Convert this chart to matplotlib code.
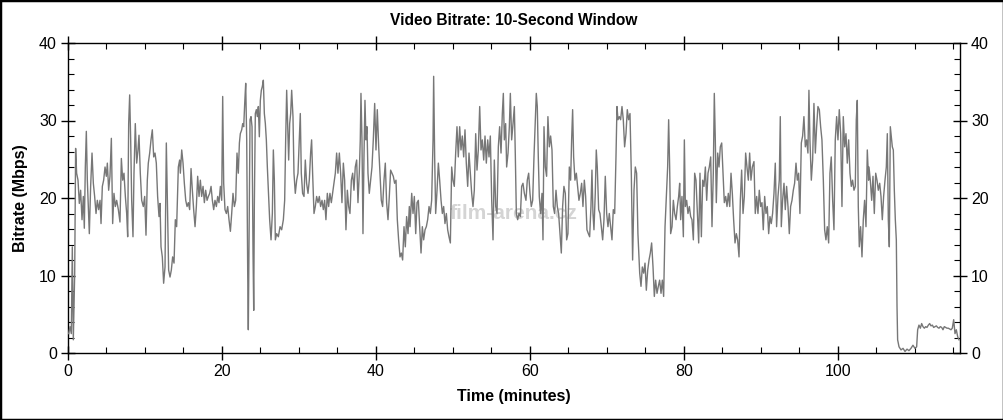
"""Video bitrate over time, 10-second window. Saves out.png."""

import matplotlib

matplotlib.use("Agg")  # headless
import matplotlib.pyplot as plt
from matplotlib import font_manager
from matplotlib.patches import Rectangle
from matplotlib.ticker import MultipleLocator

# values (minutes, Mbps)
time_min = [
    # 0 - 14.5
    0.09, 0.26, 0.43, 0.56, 0.69, 0.87, 0.99, 1.12, 1.30, 1.47, 1.64, 1.82, 1.99, 2.12, 2.25, 2.38, 2.51, 2.64,
    2.77, 2.94, 3.12, 3.29, 3.46, 3.64, 3.81, 3.98, 4.16, 4.29, 4.46, 4.63, 4.81, 4.98, 5.11, 5.28, 5.45, 5.63,
    5.80, 5.97, 6.15, 6.32, 6.54, 6.75, 6.93, 7.10, 7.27, 7.45, 7.62, 7.75, 7.88, 8.01, 8.14, 8.27, 8.44, 8.57,
    8.74, 8.92, 9.09, 9.22, 9.39, 9.57, 9.78, 9.96, 10.13, 10.30, 10.43, 10.61, 10.78, 10.95, 11.13, 11.30,
    11.47, 11.64, 11.82, 11.95, 12.08, 12.25, 12.42, 12.60, 12.77, 12.94, 13.07, 13.25, 13.42, 13.59, 13.77,
    13.94, 14.11, 14.33, 14.50,
    # 14.5 - 29.2
    14.59, 14.77, 14.94, 15.11, 15.29, 15.46, 15.63, 15.80, 15.98, 16.15, 16.32, 16.50, 16.67, 16.84, 17.02,
    17.19, 17.36, 17.54, 17.71, 17.88, 18.06, 18.23, 18.40, 18.58, 18.75, 18.92, 19.09, 19.27, 19.44, 19.61,
    19.79, 19.96, 20.09, 20.22, 20.39, 20.57, 20.74, 20.91, 21.09, 21.26, 21.43, 21.61, 21.78, 21.95, 22.12,
    22.26, 22.38, 22.56, 22.69, 22.82, 22.95, 23.08, 23.21, 23.34, 23.42, 23.51, 23.64, 23.77, 23.90, 24.03,
    24.12, 24.20, 24.33, 24.46, 24.59, 24.72, 24.85, 24.98, 25.11, 25.24, 25.37, 25.50, 25.63, 25.76, 25.89,
    26.02, 26.19, 26.37, 26.54, 26.67, 26.80, 26.93, 27.10, 27.32, 27.54, 27.75, 27.97, 28.14, 28.27, 28.40,
    28.53, 28.66, 28.79, 28.92, 29.05, 29.22,
    # 29.2 - 44.3
    29.35, 29.52, 29.70, 29.87, 30.04, 30.17, 30.30, 30.47, 30.65, 30.82, 30.99, 31.17, 31.34, 31.51, 31.64,
    31.77, 31.95, 32.12, 32.29, 32.47, 32.64, 32.81, 32.99, 33.16, 33.33, 33.50, 33.68, 33.85, 34.02, 34.20,
    34.37, 34.54, 34.72, 34.89, 35.06, 35.24, 35.41, 35.58, 35.76, 35.93, 36.10, 36.28, 36.45, 36.62, 36.80,
    36.97, 37.14, 37.31, 37.49, 37.66, 37.83, 37.96, 38.05, 38.18, 38.31, 38.44, 38.57, 38.70, 38.83, 38.96,
    39.13, 39.31, 39.48, 39.65, 39.83, 40.00, 40.17, 40.35, 40.52, 40.69, 40.86, 41.04, 41.21, 41.38, 41.56,
    41.73, 41.90, 42.08, 42.25, 42.42, 42.60, 42.77, 42.94, 43.12, 43.29, 43.46, 43.64, 43.81, 43.98, 44.16,
    44.33,
    # 44.4 - 59.3
    44.42, 44.64, 44.81, 44.98, 45.16, 45.33, 45.50, 45.67, 45.85, 46.02, 46.19, 46.37, 46.54, 46.71, 46.89,
    47.06, 47.23, 47.41, 47.49, 47.62, 47.75, 47.93, 48.10, 48.27, 48.45, 48.62, 48.79, 48.96, 49.14, 49.31,
    49.48, 49.66, 49.83, 50.00, 50.17, 50.35, 50.52, 50.69, 50.87, 51.04, 51.21, 51.39, 51.56, 51.73, 51.91,
    52.08, 52.25, 52.43, 52.60, 52.77, 52.95, 53.12, 53.29, 53.47, 53.64, 53.81, 53.99, 54.16, 54.33, 54.51,
    54.68, 54.85, 55.03, 55.20, 55.37, 55.55, 55.72, 55.89, 56.06, 56.24, 56.41, 56.54, 56.67, 56.84, 56.97,
    57.15, 57.32, 57.45, 57.62, 57.80, 57.97, 58.10, 58.23, 58.40, 58.57, 58.75, 58.92, 59.09, 59.27,
    # 59.5 - 74.0
    59.48, 59.65, 59.83, 60.00, 60.17, 60.35, 60.52, 60.69, 60.82, 60.95, 61.08, 61.21, 61.38, 61.56, 61.69,
    61.82, 61.99, 62.16, 62.33, 62.51, 62.68, 62.86, 63.03, 63.20, 63.38, 63.55, 63.72, 63.90, 64.07, 64.24,
    64.41, 64.59, 64.76, 64.93, 65.11, 65.28, 65.41, 65.54, 65.67, 65.84, 66.02, 66.19, 66.36, 66.54, 66.71,
    66.88, 67.06, 67.23, 67.40, 67.58, 67.75, 67.92, 68.05, 68.18, 68.31, 68.48, 68.61, 68.74, 68.92, 69.09,
    69.26, 69.44, 69.61, 69.78, 69.96, 70.13, 70.30, 70.48, 70.65, 70.82, 71.00, 71.17, 71.30, 71.43, 71.60,
    71.77, 71.95, 72.12, 72.29, 72.47, 72.64, 72.81, 72.99, 73.16, 73.33, 73.51, 73.68, 73.85, 74.02,
    # 74.2 - 88.9
    74.25, 74.42, 74.59, 74.77, 74.94, 75.11, 75.29, 75.46, 75.63, 75.80, 75.98, 76.15, 76.32, 76.50, 76.67,
    76.84, 77.02, 77.19, 77.36, 77.54, 77.71, 77.88, 78.01, 78.14, 78.27, 78.45, 78.62, 78.79, 78.97, 79.14,
    79.31, 79.44, 79.57, 79.74, 79.92, 80.05, 80.18, 80.35, 80.52, 80.70, 80.87, 81.04, 81.22, 81.39, 81.56,
    81.74, 81.91, 82.08, 82.26, 82.43, 82.60, 82.78, 82.95, 83.12, 83.29, 83.47, 83.64, 83.81, 83.94, 84.07,
    84.20, 84.38, 84.55, 84.72, 84.90, 85.07, 85.24, 85.42, 85.59, 85.76, 85.94, 86.11, 86.28, 86.45, 86.63,
    86.80, 86.97, 87.15, 87.32, 87.49, 87.67, 87.84, 88.01, 88.18, 88.36, 88.53, 88.70, 88.88,
    # 89.1 - 104.0
    89.09, 89.26, 89.44, 89.61, 89.78, 89.96, 90.13, 90.30, 90.48, 90.65, 90.82, 91.00, 91.17, 91.34, 91.51,
    91.69, 91.86, 92.03, 92.21, 92.38, 92.51, 92.64, 92.81, 92.99, 93.16, 93.33, 93.51, 93.68, 93.85, 94.03,
    94.20, 94.37, 94.55, 94.72, 94.89, 95.06, 95.24, 95.41, 95.58, 95.76, 95.93, 96.10, 96.23, 96.36, 96.54,
    96.71, 96.88, 97.06, 97.23, 97.40, 97.58, 97.75, 97.92, 98.10, 98.27, 98.44, 98.61, 98.79, 98.96, 99.13,
    99.31, 99.48, 99.65, 99.83, 100.00, 100.17, 100.35, 100.52, 100.69, 100.87, 101.04, 101.21, 101.39, 101.56,
    101.73, 101.90, 102.08, 102.25, 102.38, 102.51, 102.64, 102.77, 102.94, 103.12, 103.29, 103.46, 103.64,
    103.81, 103.98,
    # 104.0 - end (credits)
    104.03, 104.20, 104.38, 104.55, 104.72, 104.90, 105.07, 105.24, 105.42, 105.59, 105.76, 105.93, 106.11,
    106.28, 106.41, 106.54, 106.67, 106.80, 106.93, 107.06, 107.19, 107.32, 107.45, 107.58, 107.67, 107.75,
    107.93, 108.19, 108.45, 108.71, 108.97, 109.22, 109.48, 109.74, 110.00, 110.22, 110.35, 110.52, 110.70,
    110.87, 111.04, 111.22, 111.39, 111.56, 111.74, 111.91, 112.08, 112.26, 112.43, 112.60, 112.78, 112.95,
    113.12, 113.29, 113.47, 113.64, 113.81, 113.99, 114.16, 114.33, 114.51, 114.68, 114.85, 115.03, 115.20,
    115.37, 115.55, 115.72,
]

bitrate_mbps = [
    # 0 - 14.5
    2.5, 3.4, 2.5, 13.7, 1.7, 10.3, 26.4, 23.2, 22.3, 19.3, 21.0, 17.2, 20.2, 16.1, 24.0, 28.6, 22.3, 18.9,
    15.4, 21.5, 25.8, 21.9, 20.2, 18.0, 19.7, 18.5, 19.7, 16.7, 21.5, 22.3, 24.0, 22.8, 24.5, 21.0, 22.8, 27.7,
    16.7, 20.6, 18.9, 19.7, 18.5, 16.9, 25.1, 22.3, 23.2, 20.2, 18.0, 15.0, 29.6, 33.3, 27.5, 19.7, 15.0, 23.2,
    29.6, 24.5, 26.2, 28.1, 23.2, 19.7, 18.9, 20.2, 15.2, 22.3, 24.5, 25.8, 27.5, 28.8, 25.3, 25.8,
    24.5, 20.2, 17.6, 19.3, 13.7, 12.4, 9.0, 11.1, 27.1, 18.0, 10.7, 9.8, 10.7, 12.4, 11.6,
    17.2, 16.3, 24.0, 24.9,
    # 14.5 - 29.2
    23.2, 26.2, 24.5, 21.9, 19.7, 18.9, 19.4, 18.5, 23.8, 21.0, 18.5, 16.3, 18.9, 22.8, 20.2,
    22.3, 20.2, 21.5, 19.4, 21.0, 19.7, 20.2, 20.6, 21.5, 19.7, 18.5, 19.7, 18.9, 20.2, 19.4,
    21.5, 19.7, 33.1, 21.9, 18.5, 18.0, 18.9, 17.2, 15.7, 18.0, 20.6, 18.9, 19.7, 25.8, 23.2,
    27.1, 28.3, 28.8, 29.6, 29.2, 32.2, 34.8, 27.5, 10.3, 3.0, 14.6, 30.1, 30.5, 29.2, 12.9,
    5.5, 18.9, 30.9, 31.4, 30.5, 31.8, 27.9, 32.6, 33.9, 34.4, 35.2, 30.9, 29.6, 27.5, 24.0,
    21.0, 17.2, 14.6, 18.0, 26.2, 22.3, 14.6, 15.4, 15.0, 16.3, 15.9, 17.2, 19.7, 27.5, 33.9,
    29.6, 24.9, 29.6, 30.9, 33.9, 30.5,
    # 29.2 - 44.3
    23.2, 20.6, 22.3, 23.2, 27.5, 30.9, 23.2, 20.6, 20.2, 24.9, 21.9, 20.6, 22.3, 25.8, 27.5,
    23.2, 18.0, 18.9, 20.2, 19.4, 20.2, 18.9, 19.7, 18.5, 19.7, 17.2, 20.6, 18.9, 20.6, 19.4,
    20.6, 21.9, 23.2, 25.8, 23.2, 25.8, 23.2, 19.4, 24.5, 22.3, 15.9, 21.0, 18.9, 18.0, 22.3,
    23.2, 21.0, 24.0, 24.9, 19.4, 23.2, 27.5, 33.5, 27.5, 15.4, 25.3, 32.6, 27.5, 29.2, 23.2,
    20.6, 22.3, 24.0, 27.5, 32.2, 26.2, 31.4, 26.6, 23.2, 19.7, 18.9, 22.3, 24.5, 19.4, 17.2,
    20.2, 23.6, 23.2, 22.8, 21.9, 22.3, 17.2, 14.6, 12.4, 12.9, 12.0, 16.3, 13.7, 17.6, 15.4,
    18.9,
    # 44.4 - 59.3
    16.3, 20.6, 18.0, 20.2, 15.4, 19.4, 19.7, 16.3, 12.9, 16.3, 14.6, 15.9, 16.3, 17.2, 18.9,
    18.0, 19.7, 27.5, 35.7, 25.3, 18.0, 21.0, 24.5, 22.3, 19.7, 18.0, 18.9, 16.7, 18.0, 15.9,
    15.0, 14.2, 24.0, 22.3, 21.5, 25.8, 29.2, 25.3, 29.2, 26.2, 28.0, 25.3, 28.8, 24.5, 21.5,
    25.8, 23.2, 20.6, 18.9, 21.0, 28.3, 23.6, 26.2, 31.8, 26.2, 27.5, 24.9, 28.0, 24.5, 27.5,
    25.3, 28.0, 19.7, 14.6, 24.9, 18.9, 18.0, 26.6, 29.2, 25.8, 30.9, 33.5, 27.5, 29.6, 24.0,
    25.8, 29.2, 33.5, 27.5, 29.6, 31.8, 25.3, 18.0, 17.2, 18.0, 17.6, 21.5, 21.9, 20.6,
    # 59.5 - 74.0
    19.7, 22.3, 23.2, 20.6, 18.9, 19.7, 25.3, 30.1, 33.5, 31.8, 25.3, 20.2, 18.0, 20.6, 14.6,
    29.2, 24.0, 22.8, 30.5, 26.6, 28.0, 26.2, 18.9, 18.0, 21.0, 18.9, 18.0, 15.4, 12.9, 18.9,
    21.5, 20.6, 14.6, 15.4, 24.0, 22.3, 27.5, 31.4, 25.3, 22.3, 23.2, 21.5, 19.7, 20.6, 21.9,
    18.9, 22.3, 20.2, 15.9, 15.4, 15.0, 18.9, 23.6, 18.0, 15.9, 20.6, 26.2, 24.0, 18.5, 18.0,
    16.3, 14.6, 17.2, 22.8, 18.0, 16.3, 18.0, 16.3, 14.6, 18.5, 18.0, 25.3, 31.8, 30.1, 30.5,
    30.1, 31.8, 30.1, 26.6, 28.3, 31.4, 30.1, 30.9, 23.2, 12.0, 21.0, 24.0, 23.2, 15.4,
    # 74.2 - 88.9
    10.3, 8.6, 11.1, 10.3, 11.6, 8.1, 10.7, 12.0, 12.9, 14.2, 11.1, 7.3, 9.4, 7.7, 8.6,
    9.4, 7.7, 9.4, 7.3, 16.3, 20.2, 24.0, 30.1, 24.0, 15.4, 16.3, 19.7, 18.0, 17.2, 18.9,
    20.2, 21.9, 17.2, 20.2, 15.0, 27.5, 18.9, 19.7, 18.0, 18.9, 17.6, 17.2, 14.6, 23.2, 22.3,
    18.0, 14.2, 23.2, 15.0, 22.3, 21.5, 24.0, 19.7, 23.2, 24.0, 25.3, 16.3, 23.2, 33.5, 27.5,
    19.4, 25.8, 24.0, 26.6, 27.1, 23.2, 19.4, 20.2, 18.9, 20.6, 18.9, 23.2, 20.6, 17.2, 14.2,
    15.4, 14.6, 12.4, 19.7, 23.6, 18.0, 20.2, 25.8, 24.0, 22.3, 25.8, 22.3, 24.0,
    # 89.1 - 104.0
    24.7, 18.0, 20.2, 18.0, 21.0, 18.9, 19.4, 15.9, 20.2, 18.0, 18.9, 15.4, 17.6, 16.7, 18.0,
    20.6, 24.5, 16.3, 20.2, 22.3, 30.5, 16.3, 19.7, 21.9, 18.5, 21.5, 18.9, 15.4, 18.9, 19.7,
    21.0, 21.9, 24.5, 22.3, 23.2, 18.0, 27.1, 28.0, 30.5, 26.6, 27.5, 25.8, 33.9, 27.5, 22.3,
    24.9, 32.2, 25.8, 29.2, 31.8, 31.4, 29.2, 27.5, 22.3, 15.9, 14.6, 16.3, 14.2, 23.2, 25.3,
    19.7, 15.9, 27.5, 30.5, 27.5, 31.4, 28.3, 18.9, 30.5, 26.6, 28.3, 24.5, 27.5, 23.2,
    21.5, 22.3, 21.0, 21.5, 30.1, 32.6, 18.9, 13.7, 16.3, 12.4, 17.2, 19.7, 16.3,
    26.2, 22.3,
    # 104.0 - end (credits)
    24.0, 22.3, 19.7, 22.8, 18.0, 23.2, 22.3, 21.0, 21.9, 20.2, 17.2, 20.2, 22.3,
    24.0, 28.3, 17.2, 13.7, 29.2, 27.9, 26.6, 26.2, 21.0, 17.2, 14.6, 6.0, 1.7,
    0.8, 0.4, 0.6, 0.2, 0.5, 0.3, 0.6, 1.0, 0.6, 0.8, 3.0, 3.6, 3.2,
    3.8, 3.4, 3.2, 3.4, 3.3, 3.6, 3.8, 3.5, 3.6, 3.3, 3.4, 3.5, 3.3,
    3.2, 3.4, 3.3, 3.0, 3.4, 3.3, 3.2, 3.2, 3.1, 3.0, 3.2, 4.3, 2.5,
    3.0, 2.1, 1.7,
]

assert len(time_min) == len(bitrate_mbps), (len(time_min), len(bitrate_mbps))

# the reference uses a narrow Arial-like face; fall back to the regular one
installed = {f.name for f in font_manager.fontManager.ttflist}
narrow = "Liberation Sans Narrow" if "Liberation Sans Narrow" in installed else "Liberation Sans"
plt.rcParams["font.family"] = [narrow, "DejaVu Sans"]

fig = plt.figure(figsize=(10.04, 4.2), dpi=100)
ax = fig.add_axes([68 / 1004, 1 - 353 / 420, (960 - 68) / 1004, (353 - 43) / 420])

ax.plot(time_min, bitrate_mbps, color="#777777", lw=1.0, zorder=3)

# faint site watermark in the middle of the plot
ax.text(0.50, 0.45, "film-arena.cz", transform=ax.transAxes, ha="center", va="center",
        fontsize=15, fontweight="bold", color="#d4d4d4", zorder=1,
        family=["Liberation Sans", "DejaVu Sans"])

ax.set_xlim(0, 115.85)
ax.set_ylim(0, 40)
ax.xaxis.set_major_locator(MultipleLocator(20))
ax.xaxis.set_minor_locator(MultipleLocator(5))
ax.yaxis.set_major_locator(MultipleLocator(10))
ax.yaxis.set_minor_locator(MultipleLocator(2))

ax.tick_params(which="major", direction="inout", length=10, width=1, labelsize=11.5,
               top=True, right=True, labelright=True, pad=3)
ax.tick_params(which="minor", direction="in", length=4, width=0.8, top=True, right=True)
for sp in ax.spines.values():
    sp.set_linewidth(1)

ax.set_title("Video Bitrate: 10-Second Window", fontsize=11.2, fontweight="bold", pad=13)
ax.set_xlabel("Time (minutes)", fontsize=11.5, fontweight="bold", labelpad=7)
ax.set_ylabel("Bitrate (Mbps)", fontsize=11.5, fontweight="bold", labelpad=8)

# frame around the whole picture
fig.patches.append(Rectangle((0, 0), 1, 1, transform=fig.transFigure, fill=False,
                             ec="black", lw=2.5))

fig.savefig("out.png", dpi=100)
plt.close(fig)
